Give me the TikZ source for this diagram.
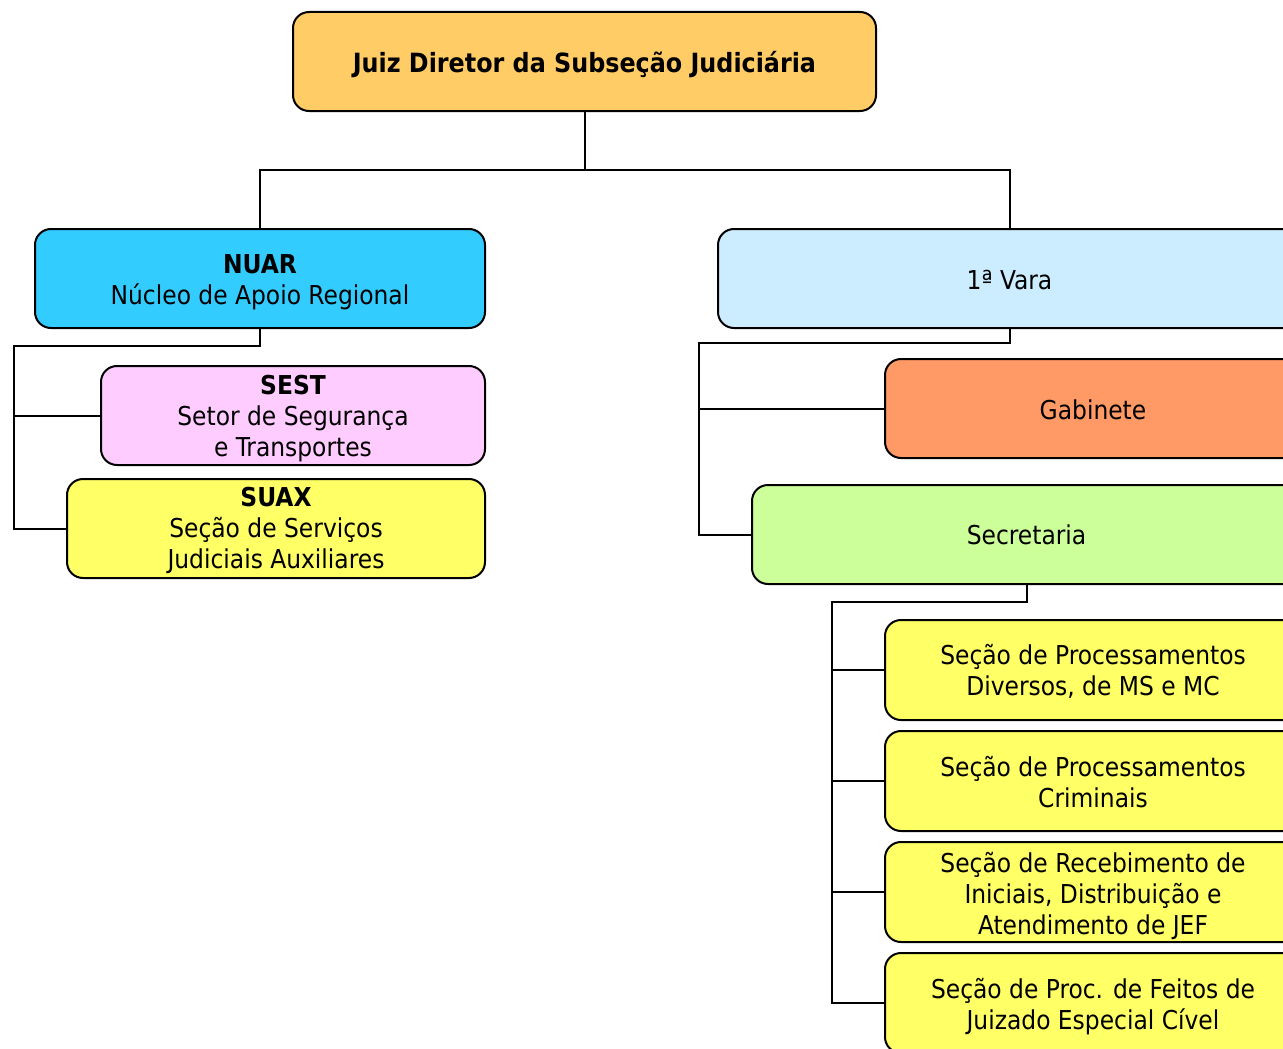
\documentclass[tikz,border=0pt]{standalone}
\usepackage{fontspec}
\setmainfont{DejaVu Sans Condensed}
\definecolor{cTop}{HTML}{FFCC66}
\definecolor{cNuar}{HTML}{33CCFF}
\definecolor{cVara}{HTML}{CCECFF}
\definecolor{cSest}{HTML}{FFCCFF}
\definecolor{cYel}{HTML}{FFFF66}
\definecolor{cGab}{HTML}{FF9966}
\definecolor{cSec}{HTML}{CCFF99}
\tikzset{
  orgbox/.style={draw=black, line width=2pt, rounded corners=16pt, inner sep=0pt},
  orgtxt/.style={align=center, inner sep=0pt, font=\fontsize{26}{31}\selectfont},
  conn/.style={draw=black, line width=2pt}
}
\begin{document}
\begin{tikzpicture}[x=1pt,y=-1pt]
\useasboundingbox (0,0) rectangle (1283,1049);
\clip (0,0) rectangle (1283,1049);
\fill[white] (0,0) rectangle (1283,1049);

\node[orgbox, fill=cTop, minimum width=583pt, minimum height=99pt] (top) at (584.5,61.5) {};
\node[orgtxt, font=\fontsize{26.5}{31}\selectfont\bfseries] (topT) at ([yshift=-3pt]top.center) {Juiz Diretor da Subseção Judiciária};

\node[orgbox, fill=cNuar, minimum width=450pt, minimum height=99pt] (nuar) at (260,278.5) {};
\node[orgtxt] (nuarT) at ([yshift=-3.5pt]nuar.center) {\textbf{NUAR}\\Núcleo de Apoio Regional};

\node[orgbox, fill=cVara, minimum width=583pt, minimum height=99pt] (vara) at (1009.5,278.5) {};
\node[orgtxt] (varaT) at ([yshift=-2pt]vara.center) {1ª Vara};

\node[orgbox, fill=cSest, minimum width=384pt, minimum height=99pt] (sest) at (293,415.5) {};
\node[orgtxt] (sestT) at ([yshift=-3pt]sest.center) {\textbf{SEST}\\Setor de Segurança\\e Transportes};

\node[orgbox, fill=cYel, minimum width=418pt, minimum height=99pt] (suax) at (276,528.5) {};
\node[orgtxt] (suaxT) at ([yshift=-2pt]suax.center) {\textbf{SUAX}\\Seção de Serviços\\Judiciais Auxiliares};

\node[orgbox, fill=cGab, minimum width=416pt, minimum height=99pt] (gab) at (1093,408.5) {};
\node[orgtxt] (gabT) at ([yshift=-1pt]gab.center) {Gabinete};

\node[orgbox, fill=cSec, minimum width=549pt, minimum height=99pt] (sec) at (1026.5,534.5) {};
\node[orgtxt] (secT) at ([yshift=-0.5pt]sec.center) {Secretaria};

\node[orgbox, fill=cYel, minimum width=416pt, minimum height=100pt] (s1) at (1093,670) {};
\node[orgtxt] (s1T) at ([yshift=-1.5pt]s1.center) {Seção de Processamentos\\Diversos, de MS e MC};

\node[orgbox, fill=cYel, minimum width=416pt, minimum height=100pt] (s2) at (1093,781) {};
\node[orgtxt] (s2T) at ([yshift=-1.5pt]s2.center) {Seção de Processamentos\\Criminais};

\node[orgbox, fill=cYel, minimum width=416pt, minimum height=100pt] (s3) at (1093,892) {};
\node[orgtxt] (s3T) at ([yshift=-3.5pt]s3.center) {Seção de Recebimento de\\Iniciais, Distribuição e\\Atendimento de JEF};

\node[orgbox, fill=cYel, minimum width=416pt, minimum height=100pt] (s4) at (1093,1003) {};
\node[orgtxt] (s4T) at ([yshift=-3.5pt]s4.center) {Seção de Proc. de Feitos de\\Juizado Especial Cível};

\coordinate (t1) at (584.5,170);
\coordinate (n2) at (14,346);
\coordinate (v2) at (699,343);
\coordinate (c2) at (832,602);

\draw[conn] (top.south) -- (t1);
\draw[conn] (nuar.north) |- (t1) -| (vara.north);
\draw[conn] (nuar.south) |- (n2) |- (suax.west);
\draw[conn] (n2 |- sest.west) -- (sest.west);
\draw[conn] (vara.south) |- (v2) |- (sec.west);
\draw[conn] (v2 |- gab.west) -- (gab.west);
\draw[conn] (sec.south) |- (c2) |- (s4.west);
\draw[conn] (c2 |- s1.west) -- (s1.west);
\draw[conn] (c2 |- s2.west) -- (s2.west);
\draw[conn] (c2 |- s3.west) -- (s3.west);
\end{tikzpicture}
\end{document}
